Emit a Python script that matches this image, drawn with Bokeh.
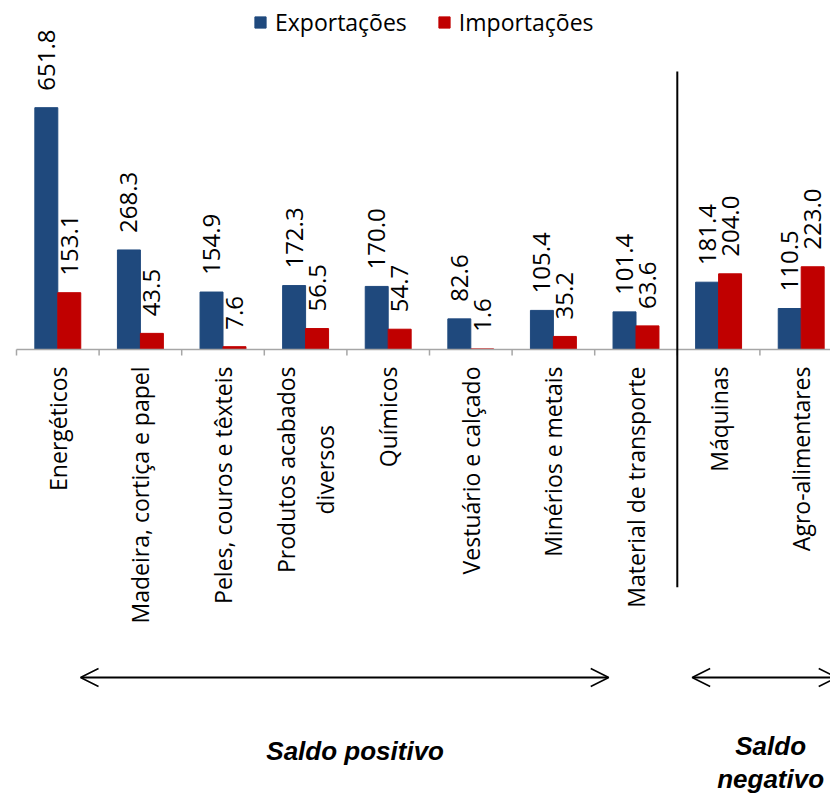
import math
from bokeh.plotting import figure
from bokeh.models import Range1d, ColumnDataSource, Legend, LegendItem, Arrow, OpenHead
from bokeh.core.properties import value
from bokeh.embed import file_html
from bokeh.resources import INLINE

categories = ["Energéticos", "Madeira, cortiça e papel", "Peles, couros e têxteis",
              "Produtos acabados\ndiversos", "Químicos", "Vestuário e calçado",
              "Minérios e metais", "Material de transporte", "Máquinas", "Agro-alimentares"]
exportacoes = [651.8, 268.3, 154.9, 172.3, 170.0, 82.6, 105.4, 101.4, 181.4, 110.5]
importacoes = [153.1, 43.5, 7.6, 56.5, 54.7, 1.6, 35.2, 63.6, 204.0, 223.0]
series_names = ["Exportações", "Importações"]
group_names = ["Saldo positivo", "Saldo\nnegativo"]

BLUE = "#1F497D"
RED = "#C00000"
FONT = "Open Sans"

W, H = 830, 796
cat_px = 82.6          # pixels per category
x0_px = 16             # left of first category
base_px = 349          # baseline from top
px_per_unit = 0.371

p = figure(width=W, height=H, output_backend="svg", toolbar_location=None,
           x_range=Range1d(-x0_px / cat_px, (W - x0_px) / cat_px),
           y_range=Range1d(-(H - base_px) / px_per_unit, base_px / px_per_unit),
           x_axis_location=None, y_axis_location=None, min_border=0)
p.grid.visible = False
p.outline_line_color = None
p.background_fill_color = "white"
p.border_fill_color = "white"

n = len(categories)
centers = [i + 0.5 for i in range(n)]
bw = 0.278
src = ColumnDataSource(dict(
    xe=[c - bw / 2 for c in centers], xi=[c + bw / 2 for c in centers],
    exp=exportacoes, imp=importacoes, cx=centers, cat=categories,
    exp_lbl=[f"{v:.1f}" for v in exportacoes], imp_lbl=[f"{v:.1f}" for v in importacoes],
))

r_exp = p.vbar(x="xe", top="exp", bottom=0, width=bw, source=src, fill_color=BLUE, line_color=BLUE)
r_imp = p.vbar(x="xi", top="imp", bottom=0, width=bw, source=src, fill_color=RED, line_color=RED)

# value labels
for xcol, ycol, tcol in [("xe", "exp", "exp_lbl"), ("xi", "imp", "imp_lbl")]:
    p.text(x=xcol, y=ycol, text=tcol, source=src, angle=math.pi / 2, text_align="left",
           text_baseline="middle", y_offset=-17, text_font=value(FONT), text_font_size="24px",
           text_color="black")

# baseline axis and ticks
p.segment(x0=[0], y0=[0], x1=[(W - x0_px) / cat_px], y1=[0], line_color="#A6A6A6", line_width=1.5)
p.segment(x0=list(range(n + 1)), y0=[0] * (n + 1), x1=list(range(n + 1)),
          y1=[-6 / px_per_unit] * (n + 1), line_color="#A6A6A6", line_width=1.5)

# category labels
p.text(x="cx", y=0, text="cat", source=src, angle=math.pi / 2, anchor="center_right",
       text_align="center", y_offset=17, text_font=value(FONT), text_font_size="23px",
       text_color="black", text_line_height=1.2)

# separator line between positive and negative balance groups
p.segment(x0=[8], y0=[749], x1=[8], y1=[-641], line_color="black", line_width=2)

# arrows
arrow_y = -(677 - base_px) / px_per_unit
for xs, xe in [(0.775, 7.17), (8.18, 9.93)]:
    p.add_layout(Arrow(x_start=xs, y_start=arrow_y, x_end=xe, y_end=arrow_y,
                       line_color="black", line_width=2,
                       start=OpenHead(size=18, line_color="black", line_width=1.5),
                       end=OpenHead(size=18, line_color="black", line_width=1.5)))

# group texts
p.text(x=[4.1, 9.13], y=[-(750 - base_px) / px_per_unit, -(762 - base_px) / px_per_unit],
       text=group_names, text_align="center", text_baseline="middle",
       text_font=value("Liberation Sans"), text_font_style="bold italic",
       text_font_size="26px", text_color="black", text_line_height=1.1)

legend = Legend(items=[LegendItem(label=series_names[0], renderers=[r_exp]),
                       LegendItem(label=series_names[1], renderers=[r_imp])],
                orientation="horizontal", location=(253, 758),
                glyph_width=14, glyph_height=14, label_standoff=8, spacing=30,
                padding=0, margin=0, border_line_color=None, background_fill_alpha=0,
                label_text_font=FONT, label_text_font_size="23px", label_text_color="black")
p.add_layout(legend)

open("out.html", "w").write(file_html(p, INLINE))
